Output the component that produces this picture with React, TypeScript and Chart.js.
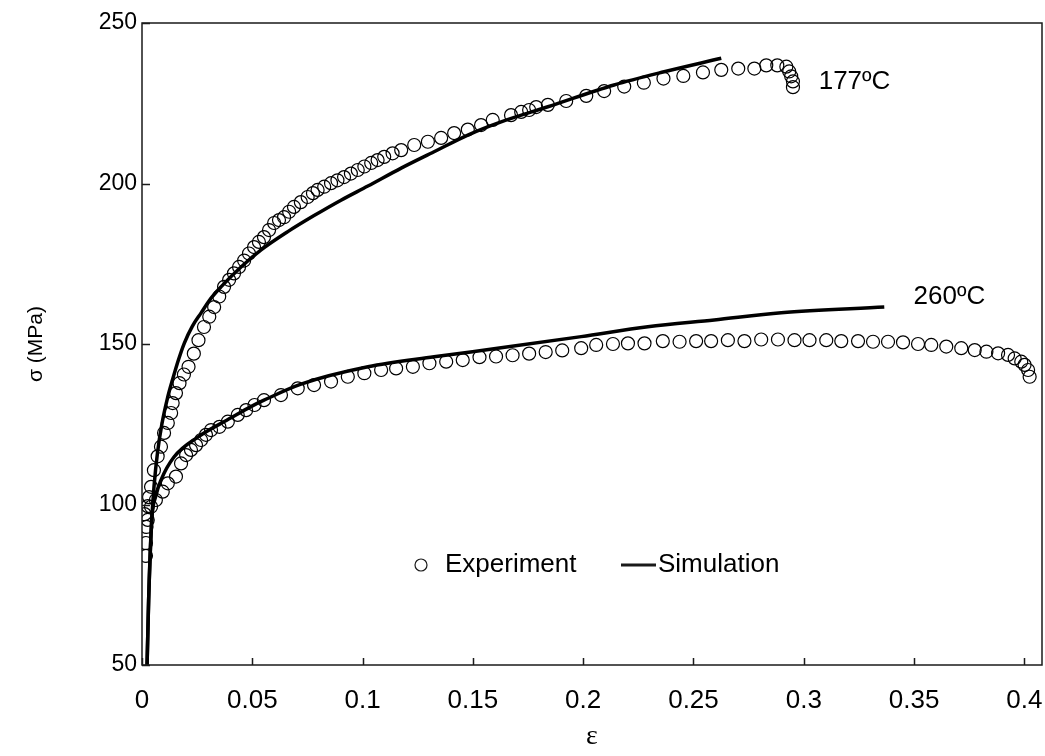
import React, { useEffect, useRef } from "react";
import { Chart, registerables } from "chart.js";

Chart.register(...registerables);

const SANS = '"Liberation Sans", Arial, sans-serif';
const SERIF = '"Liberation Serif", "Times New Roman", serif';

const xTicks = [0, 0.05, 0.1, 0.15, 0.2, 0.25, 0.3, 0.35, 0.4];
const yTicks = [50, 100, 150, 200, 250];

const exp177Strain = [
  0.0018, 0.0018, 0.002, 0.0012, 0.0026, 0.0032, 0.0041, 0.0054, 0.0071, 0.0086,
  0.01, 0.0117, 0.0132, 0.0139, 0.0154, 0.017, 0.019, 0.0211, 0.0235, 0.0256,
  0.0281, 0.0305, 0.0327, 0.035, 0.0372, 0.0395, 0.0417, 0.044, 0.0463, 0.0485,
  0.0508, 0.053, 0.0553, 0.0576, 0.0599, 0.0621, 0.0644, 0.0667, 0.0689, 0.072,
  0.0751, 0.0775, 0.0796, 0.0826, 0.0857, 0.0886, 0.0916, 0.0947, 0.0978, 0.1008,
  0.1039, 0.1068, 0.1098, 0.1136, 0.1175, 0.1234, 0.1296, 0.1356, 0.1415, 0.1477,
  0.1537, 0.159, 0.1673, 0.1719, 0.1755, 0.1787, 0.184, 0.1923, 0.2014, 0.2095,
  0.2186, 0.2275, 0.2364, 0.2454, 0.2543, 0.2626, 0.2703, 0.2776, 0.283, 0.288,
  0.2921, 0.2934, 0.2943, 0.2951, 0.2951,
];
const exp177Stress = [
  84, 88, 93, 97, 99.5, 102.3, 105.5, 110.7, 115, 118,
  122.3, 125.4, 128.5, 131.6, 134.7, 137.8, 140.5, 142.9, 147, 151.2,
  155.3, 158.5, 161.5, 164.8, 167.8, 170, 172, 174, 176, 178.2,
  180.2, 181.8, 183.3, 185.5, 187.7, 188.6, 189.5, 191.2, 192.7, 194.2,
  195.8, 197, 198, 199, 200.1, 201, 202, 203.1, 204.2, 205.3,
  206.4, 207.3, 208.3, 209.4, 210.4, 212, 213, 214.2, 215.7, 216.8,
  218.2, 219.8, 221.3, 222.3, 222.9, 223.8, 224.5, 225.7, 227.3, 228.8,
  230.2, 231.4, 232.7, 233.5, 234.6, 235.4, 235.8, 235.8, 236.8, 236.8,
  236.4, 234.9, 233.4, 231.8, 230,
];

const exp260Strain = [
  0.0026, 0.0041, 0.0063, 0.0094, 0.0117, 0.0154, 0.0177, 0.02, 0.0222, 0.0245,
  0.0268, 0.029, 0.0313, 0.0351, 0.0389, 0.0434, 0.0472, 0.051, 0.0553, 0.063,
  0.0706, 0.078, 0.0857, 0.0933, 0.1008, 0.1084, 0.1152, 0.1228, 0.1303, 0.1379,
  0.1454, 0.153, 0.1605, 0.168, 0.1755, 0.183, 0.1905, 0.1991, 0.2059, 0.2135,
  0.2203, 0.2278, 0.2361, 0.2437, 0.2512, 0.258, 0.2656, 0.2731, 0.2807, 0.2883,
  0.2958, 0.3026, 0.3102, 0.317, 0.3246, 0.3314, 0.3382, 0.345, 0.3518, 0.3578,
  0.3646, 0.3714, 0.3775, 0.3828, 0.3881, 0.3926, 0.3956, 0.3986, 0.4001, 0.4017,
  0.4024,
];
const exp260Stress = [
  95.2, 99.3, 101.4, 104, 106.6, 108.7, 112.8, 115.4, 117, 118.5,
  120.1, 121.7, 123.2, 124.2, 125.8, 127.9, 129.4, 131, 132.5, 134.1,
  136.2, 137.2, 138.3, 139.8, 140.9, 141.9, 142.4, 142.9, 144, 144.5,
  145, 145.9, 146.1, 146.5, 147, 147.5, 148, 148.7, 149.7, 150,
  150.2, 150.2, 150.9, 150.7, 150.9, 150.9, 151.2, 150.9, 151.4, 151.4,
  151.2, 151.2, 151.2, 150.9, 150.9, 150.7, 150.7, 150.5, 150, 149.7,
  149.2, 148.7, 148.1, 147.6, 147.1, 146.6, 145.5, 144.5, 143.5, 141.9,
  139.8,
];

const sim177Strain = [
  0.0023, 0.003, 0.0044, 0.0055, 0.007, 0.009, 0.0115, 0.0139, 0.0165, 0.0192,
  0.0228, 0.0268, 0.031, 0.0358, 0.0449, 0.054, 0.0661, 0.078, 0.0902, 0.1024,
  0.1175, 0.1324, 0.1477, 0.1628, 0.184, 0.214, 0.2367, 0.2626,
];
const sim177Stress = [
  50, 70, 95, 106, 116, 125, 133, 139, 145, 150.3,
  155.5, 159.7, 164, 167.8, 174, 179.3, 185, 190, 194.8, 199.2,
  204.8, 209.9, 215.1, 219.2, 223.9, 230.7, 234.8, 239,
];

const sim260Strain = [
  0.0023, 0.003, 0.0044, 0.0062, 0.0086, 0.0145, 0.0253, 0.0404, 0.0494, 0.0553,
  0.0721, 0.1024, 0.1324, 0.1628, 0.1991, 0.2293, 0.2594, 0.2898, 0.3365,
];
const sim260Stress = [
  50, 70, 95, 102.5, 107.6, 114.8, 121, 127, 130.5, 132.5,
  137.5, 142.9, 146, 148.8, 152.3, 155.4, 157.5, 159.7, 161.5,
];

const curveLabelText = ["177ºC", "260ºC"];
const curveLabelStrain = [0.323, 0.366];
const curveLabelStress = [231.6, 164.6];

const legendText = ["Experiment", "Simulation"];

const zip = (xs: number[], ys: number[]) => xs.map((x, i) => ({ x, y: ys[i] }));

const expStyle = {
  showLine: false,
  pointStyle: "circle" as const,
  pointRadius: 6.5,
  pointHoverRadius: 6.5,
  pointBorderWidth: 1.2,
  pointBorderColor: "#000",
  pointBackgroundColor: "rgba(0,0,0,0)",
  borderColor: "#000",
  backgroundColor: "rgba(0,0,0,0)",
};

const simStyle = {
  showLine: true,
  pointRadius: 0,
  pointHoverRadius: 0,
  borderColor: "#000",
  borderWidth: 3.5,
  backgroundColor: "#000",
  cubicInterpolationMode: "monotone" as const,
  fill: false,
};

const overlay = {
  id: "overlay",
  afterDraw(chart: any) {
    const { ctx, chartArea: a, scales } = chart;
    const x = scales.x;
    const y = scales.y;
    ctx.save();
    ctx.strokeStyle = "#1a1a1a";
    ctx.lineWidth = 1.5;
    ctx.strokeRect(a.left, a.top, a.right - a.left, a.bottom - a.top);
    ctx.beginPath();
    xTicks.forEach((v) => {
      const px = Math.round(x.getPixelForValue(v)) + 0.5;
      ctx.moveTo(px, a.bottom);
      ctx.lineTo(px, a.bottom - 7);
    });
    yTicks.forEach((v) => {
      const py = Math.round(y.getPixelForValue(v)) + 0.5;
      ctx.moveTo(a.left, py);
      ctx.lineTo(a.left + 8, py);
    });
    ctx.stroke();

    ctx.fillStyle = "#000";
    ctx.font = `26px ${SANS}`;
    ctx.textAlign = "center";
    ctx.textBaseline = "middle";
    curveLabelText.forEach((t, i) => {
      ctx.fillText(t, x.getPixelForValue(curveLabelStrain[i]), y.getPixelForValue(curveLabelStress[i]));
    });

    // legend
    const ly = a.top + 542;
    const lx = a.left + 279;
    ctx.beginPath();
    ctx.lineWidth = 1.2;
    ctx.arc(lx, ly, 6, 0, Math.PI * 2);
    ctx.stroke();
    ctx.textAlign = "left";
    ctx.fillText(legendText[0], lx + 24, ly);
    ctx.beginPath();
    ctx.lineWidth = 3;
    ctx.moveTo(lx + 200, ly);
    ctx.lineTo(lx + 235, ly);
    ctx.stroke();
    ctx.fillText(legendText[1], lx + 237, ly);
    ctx.restore();
  },
};

export default function App() {
  const ref = useRef<HTMLCanvasElement | null>(null);

  useEffect(() => {
    document.body.style.margin = "0";
    document.body.style.overflow = "hidden";
    const canvas = ref.current;
    if (!canvas) return;
    const chart = new Chart(canvas, {
      type: "scatter",
      data: {
        datasets: [
          { label: "Experiment 177", data: zip(exp177Strain, exp177Stress), ...expStyle },
          { label: "Experiment 260", data: zip(exp260Strain, exp260Stress), ...expStyle },
          { label: "Simulation 177", data: zip(sim177Strain, sim177Stress), ...simStyle },
          { label: "Simulation 260", data: zip(sim260Strain, sim260Stress), ...simStyle },
        ] as any,
      },
      options: {
        animation: false,
        responsive: false,
        maintainAspectRatio: false,
        events: [],
        layout: { autoPadding: false, padding: { top: 23, right: 3, left: 0, bottom: 0 } },
        plugins: { legend: { display: false }, tooltip: { enabled: false } },
        scales: {
          x: {
            type: "linear",
            min: 0,
            max: 0.408,
            afterBuildTicks: (s: any) => {
              s.ticks = xTicks.map((v) => ({ value: v }));
            },
            afterFit: (s: any) => {
              s.height = 91;
              s.paddingLeft = 0;
              s.paddingRight = 0;
            },
            grid: { display: false, drawTicks: false },
            border: { display: false },
            ticks: {
              color: "#000",
              font: { family: SANS, size: 26 },
              padding: 20,
              maxRotation: 0,
              autoSkip: false,
              callback: (v: any) => String(v),
            },
            title: {
              display: true,
              text: "ε",
              color: "#000",
              font: { family: SERIF, size: 28 },
              padding: { top: 0, bottom: 3 },
            },
          },
          y: {
            type: "linear",
            min: 50,
            max: 250,
            afterBuildTicks: (s: any) => {
              s.ticks = yTicks.map((v) => ({ value: v }));
            },
            afterFit: (s: any) => {
              s.width = 142;
              s.paddingTop = 0;
              s.paddingBottom = 0;
            },
            grid: { display: false, drawTicks: false },
            border: { display: false },
            ticks: {
              color: "#000",
              font: { family: SANS, size: 23 },
              padding: 5,
              autoSkip: false,
              callback: (v: any) => String(v),
            },
            title: {
              display: true,
              text: "σ (MPa)",
              color: "#000",
              font: { family: SANS, size: 21 },
              padding: { top: 24, bottom: 0 },
            },
          },
        },
      },
      plugins: [overlay],
    });
    return () => chart.destroy();
  }, []);

  return (
    <div style={{ width: 1045, height: 756, background: "#fff" }}>
      <canvas ref={ref} width={1045} height={756} style={{ display: "block", width: 1045, height: 756 }} />
    </div>
  );
}
